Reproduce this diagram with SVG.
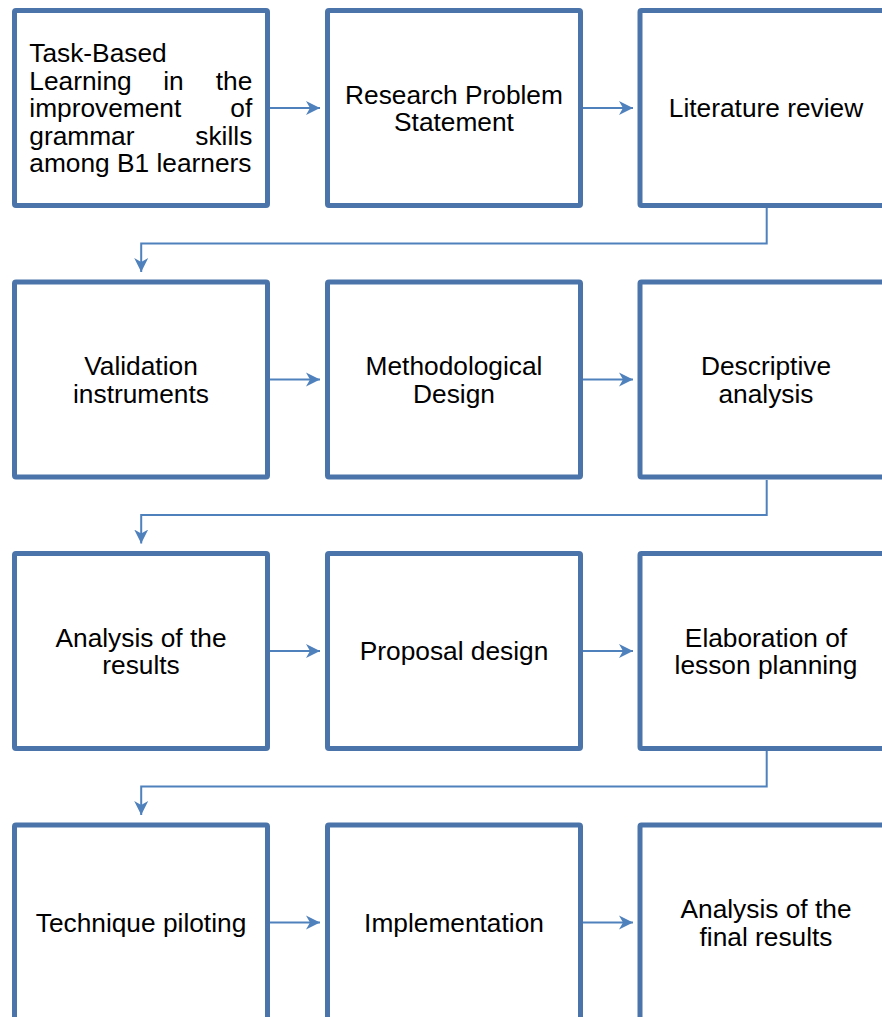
<svg xmlns="http://www.w3.org/2000/svg" width="882" height="1017" viewBox="0 0 882 1017">
<style>
.box{fill:#fff;stroke:#4A74AA;stroke-width:5}
.t{font-family:"Liberation Sans",Arial,sans-serif;font-size:26.3px;fill:#000;text-anchor:middle}
.l{text-anchor:start}
.e{text-anchor:end}
.c{fill:none;stroke:#4F81BD;stroke-width:2}
</style>
<defs>
<marker id="ah" markerUnits="userSpaceOnUse" markerWidth="15" markerHeight="15" viewBox="0 0 15 15" refX="14" refY="7.5" orient="auto">
<path d="M0,0.5 L14,7.5 L0,14.5 L4,7.5 z" fill="#4F81BD"/>
</marker>
</defs>
<rect width="882" height="1017" fill="#fff"/>
<g id="connectors">
<line class="c" x1="270" y1="108" x2="320" y2="108" marker-end="url(#ah)"/>
<line class="c" x1="583" y1="108" x2="633" y2="108" marker-end="url(#ah)"/>
<polyline class="c" points="766.7,208 766.7,243.5 141.2,243.5 141.2,272" marker-end="url(#ah)"/>
<line class="c" x1="270" y1="379.5" x2="320" y2="379.5" marker-end="url(#ah)"/>
<line class="c" x1="583" y1="379.5" x2="633" y2="379.5" marker-end="url(#ah)"/>
<polyline class="c" points="766.7,480 766.7,515 141.2,515 141.2,543.5" marker-end="url(#ah)"/>
<line class="c" x1="270" y1="651" x2="320" y2="651" marker-end="url(#ah)"/>
<line class="c" x1="583" y1="651" x2="633" y2="651" marker-end="url(#ah)"/>
<polyline class="c" points="766.7,751 766.7,786.5 141.2,786.5 141.2,815" marker-end="url(#ah)"/>
<line class="c" x1="270" y1="922.5" x2="320" y2="922.5" marker-end="url(#ah)"/>
<line class="c" x1="583" y1="922.5" x2="633" y2="922.5" marker-end="url(#ah)"/>
</g>
<g id="n1">
<rect class="box" x="14.5" y="10.5" width="253" height="195" rx="1.5"/>
<text class="t l" x="29.3" y="62.4">Task-Based</text>
<text class="t l" x="29.3" y="90">Learning</text>
<text class="t l" x="163.2" y="90">in</text>
<text class="t e" x="252.3" y="90">the</text>
<text class="t l" x="29.3" y="117.4">improvement</text>
<text class="t e" x="252.3" y="117.4">of</text>
<text class="t l" x="29.3" y="145">grammar</text>
<text class="t e" x="252.3" y="145">skills</text>
<text class="t l" x="29.3" y="172.4">among B1 learners</text>
</g>
<g id="n2">
<rect class="box" x="327.5" y="10.5" width="253" height="195" rx="1.5"/>
<text class="t" x="454" y="103.7">Research Problem</text>
<text class="t" x="454" y="131.2">Statement</text>
</g>
<g id="n3">
<rect class="box" x="640" y="10.5" width="253" height="195" rx="1.5"/>
<text class="t" x="766" y="117.4">Literature review</text>
</g>
<g id="n4">
<rect class="box" x="14.5" y="282" width="253" height="195" rx="1.5"/>
<text class="t" x="141" y="375.2">Validation</text>
<text class="t" x="141" y="402.7">instruments</text>
</g>
<g id="n5">
<rect class="box" x="327.5" y="282" width="253" height="195" rx="1.5"/>
<text class="t" x="454" y="375.2">Methodological</text>
<text class="t" x="454" y="402.7">Design</text>
</g>
<g id="n6">
<rect class="box" x="640" y="282" width="253" height="195" rx="1.5"/>
<text class="t" x="766" y="375.2">Descriptive</text>
<text class="t" x="766" y="402.7">analysis</text>
</g>
<g id="n7">
<rect class="box" x="14.5" y="553.5" width="253" height="195" rx="1.5"/>
<text class="t" x="141" y="646.7">Analysis of the</text>
<text class="t" x="141" y="674.2">results</text>
</g>
<g id="n8">
<rect class="box" x="327.5" y="553.5" width="253" height="195" rx="1.5"/>
<text class="t" x="454" y="660.4">Proposal design</text>
</g>
<g id="n9">
<rect class="box" x="640" y="553.5" width="253" height="195" rx="1.5"/>
<text class="t" x="766" y="646.7">Elaboration of</text>
<text class="t" x="766" y="674.2">lesson planning</text>
</g>
<g id="n10">
<rect class="box" x="14.5" y="825" width="253" height="195" rx="1.5"/>
<text class="t" x="141" y="931.9">Technique piloting</text>
</g>
<g id="n11">
<rect class="box" x="327.5" y="825" width="253" height="195" rx="1.5"/>
<text class="t" x="454" y="931.9">Implementation</text>
</g>
<g id="n12">
<rect class="box" x="640" y="825" width="253" height="195" rx="1.5"/>
<text class="t" x="766" y="918.2">Analysis of the</text>
<text class="t" x="766" y="945.7">final results</text>
</g>
</svg>
